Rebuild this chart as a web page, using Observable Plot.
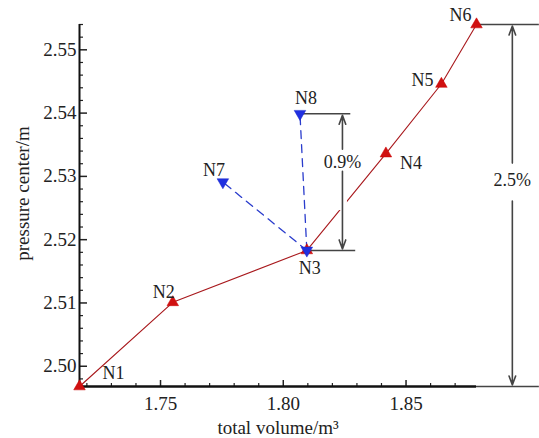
<!DOCTYPE html>
<html>
<head>
<meta charset="utf-8">
<script src="https://cdn.jsdelivr.net/npm/d3@7"></script>
<script src="https://cdn.jsdelivr.net/npm/@observablehq/plot@0.6"></script>
<style>
  html, body { margin: 0; padding: 0; background: #fff; }
  #chart { width: 539px; height: 438px; }
  svg { font-family: "Liberation Serif", "Times New Roman", serif; }
</style>
</head>
<body>
<div id="chart"></div>
<script>
// ---- data ----
const nodeNames = ["N1", "N2", "N3", "N4", "N5", "N6", "N7", "N8"];
const totalVolume = [1.717, 1.755, 1.8096, 1.8418, 1.8644, 1.8787, 1.7754, 1.8068];
const pressureCenter = [2.4968, 2.5101, 2.5183, 2.5336, 2.5446, 2.554, 2.5291, 2.5399];
const mainPath = ["N1", "N2", "N3", "N4", "N5", "N6"];
const redNodes = ["N1", "N2", "N3", "N4", "N5", "N6"];
const blueNodes = ["N3", "N7", "N8"];
const branches = [["N3", "N7"], ["N3", "N8"]];
const xMajorTicks = [1.75, 1.80, 1.85];
const xMinorTicks = [1.72, 1.73, 1.74, 1.76, 1.77, 1.78, 1.79, 1.81, 1.82, 1.83, 1.84, 1.86, 1.87];
const yMajorTicks = [2.50, 2.51, 2.52, 2.53, 2.54, 2.55];
const yMinorTicks = d3.range(2.498, 2.5545, 0.002).filter(v => Math.abs(v * 100 - Math.round(v * 100)) > 1e-6);
const annotationLabels = ["0.9%", "2.5%"];
const xTitle = "total volume/m³";
const yTitle = "pressure center/m";

// ---- table ----
const nodes = nodeNames.map((n, i) => ({name: n, x: totalVolume[i], y: pressureCenter[i]}));
const byName = Object.fromEntries(nodes.map(d => [d.name, d]));
const pathData = mainPath.map(n => byName[n]);
const branchData = branches.flatMap(([a, b], k) => [{...byName[a], k}, {...byName[b], k}]);

const xDomain = [byName.N1.x, byName.N6.x];
const yDomain = [byName.N1.y, byName.N6.y];
const xRightEdge = 1.9043;

// label offsets (pixels)
const labelOffset = {
  N1: [34, -13], N2: [-9, -10], N3: [3, 18], N4: [25, 10],
  N5: [-19, -4], N6: [-16, -9], N7: [-9, -12], N8: [6, -15]
};

// annotation geometry (data space)
const n3 = byName.N3, n8 = byName.N8, n1 = byName.N1, n6 = byName.N6;
const a1x = 1.8241, a2x = 1.8933;
const a1text = 2.5322, a2text = 2.5294;

const gray = "#444";
const font = "Liberation Serif, Times New Roman, serif";

const plot = Plot.plot({
  width: 539,
  height: 438,
  marginLeft: 79,
  marginRight: 63,
  marginTop: 24,
  marginBottom: 52,
  style: {fontFamily: font, fontSize: "18px", color: "#222", background: "#fff", overflow: "visible"},
  x: {domain: xDomain, label: null},
  y: {domain: yDomain, label: null},
  marks: [
    // tick labels and ticks
    Plot.axisX({ticks: xMajorTicks, tickSize: 0, tickPadding: 10, tickFormat: ".2f", fontSize: 19, label: null}),
    Plot.axisX({ticks: xMajorTicks, tickSize: -6, tickFormat: () => "", strokeWidth: 1.5}),
    Plot.axisX({ticks: xMinorTicks, tickSize: -3, tickFormat: () => "", strokeWidth: 1.2}),
    Plot.axisY({ticks: yMajorTicks, tickSize: 0, tickPadding: 3, tickFormat: ".2f", fontSize: 19, label: null}),
    Plot.axisY({ticks: yMajorTicks, tickSize: -8, tickFormat: () => "", strokeWidth: 1.5}),
    Plot.axisY({ticks: yMinorTicks, tickSize: -4, tickFormat: () => "", strokeWidth: 1.2}),
    // axis titles
    Plot.text([xTitle], {frameAnchor: "bottom", textAnchor: "middle", lineAnchor: "middle", dy: 41, fontSize: 19, fill: "#222"}),
    Plot.text([yTitle], {frameAnchor: "left", textAnchor: "middle", lineAnchor: "middle", dx: -57, dy: -12, rotate: -90, fontSize: 19, fill: "#222"}),
    // axis lines
    Plot.ruleX([xDomain[0]], {y1: yDomain[0], y2: yDomain[1], stroke: "#111", strokeWidth: 2}),
    Plot.ruleY([yDomain[0]], {x1: xDomain[0], x2: xDomain[1], stroke: "#111", strokeWidth: 2.5}),
    Plot.ruleY([yDomain[0]], {x1: xDomain[1], x2: xRightEdge, stroke: gray, strokeWidth: 1.5}),
    Plot.ruleY([yDomain[1]], {x1: xDomain[1], x2: xRightEdge, stroke: gray, strokeWidth: 1.5}),
    // reference lines for 0.9%
    Plot.ruleY([n8.y], {x1: n8.x, x2: 1.8275, stroke: gray, strokeWidth: 1.5}),
    Plot.ruleY([n3.y], {x1: n3.x, x2: 1.8295, stroke: gray, strokeWidth: 1.5}),
    // branches
    Plot.line(branchData, {x: "x", y: "y", z: "k", stroke: "#2a3ccc", strokeWidth: 1.3, strokeDasharray: "8,6"}),
    // main path
    Plot.line(pathData, {x: "x", y: "y", stroke: "#a8181c", strokeWidth: 1.1}),
    // gap in red line behind the arrow
    Plot.ruleX([a1x], {y1: 2.5287, y2: 2.5246, stroke: "white", strokeWidth: 9}),
    // arrows
    Plot.arrow([
      {x1: a1x, y1: a1text + 0.0021, x2: a1x, y2: n8.y},
      {x1: a1x, y1: a1text - 0.0014, x2: a1x, y2: n3.y},
      {x1: a2x, y1: a2text + 0.0027, x2: a2x, y2: n6.y},
      {x1: a2x, y1: a2text - 0.0033, x2: a2x, y2: n1.y}
    ], {x1: "x1", y1: "y1", x2: "x2", y2: "y2", stroke: gray, strokeWidth: 1.6, headLength: 9, headAngle: 40, insetEnd: 1.5}),
    Plot.text([{t: annotationLabels[0], x: a1x, y: a1text}, {t: annotationLabels[1], x: a2x, y: a2text}],
      {x: "x", y: "y", text: "t", fontSize: 18, fill: "#222"}),
    // markers
    Plot.dot(redNodes.map(n => byName[n]), {x: "x", y: "y", symbol: "triangle", r: 4.3, fill: "#d01010", stroke: "#c00", strokeWidth: 0.5}),
    Plot.dot(blueNodes.map(n => byName[n]), {x: "x", y: "y", symbol: "triangle", rotate: 180, r: 4.3, fill: "#2030e0", stroke: "#1a28cc", strokeWidth: 0.5}),
    // node labels
    ...nodes.map(d => Plot.text([d], {x: "x", y: "y", text: "name", dx: labelOffset[d.name][0], dy: labelOffset[d.name][1], fontSize: 18, fill: "#222"}))
  ]
});
document.getElementById("chart").appendChild(plot);
</script>
</body>
</html>
